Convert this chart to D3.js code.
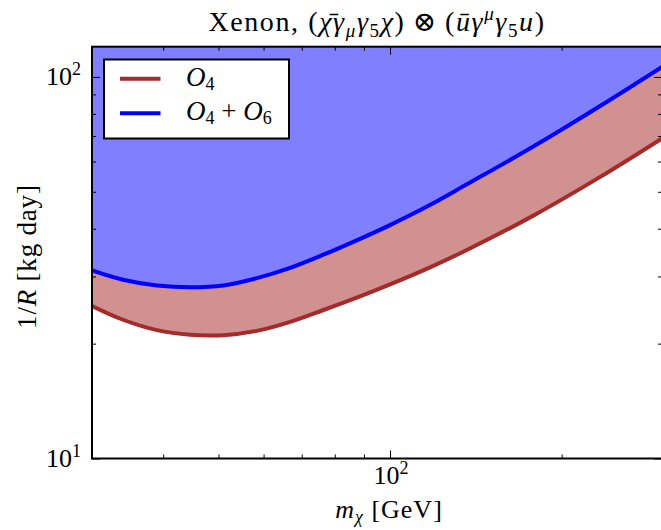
<!DOCTYPE html>
<html>
<head>
<meta charset="utf-8">
<script src="https://cdn.jsdelivr.net/npm/d3@7"></script>
<style>
  html, body { margin: 0; padding: 0; background: #fff; }
  svg { display: block; }
  text { font-family: "Liberation Serif", "DejaVu Serif", serif; fill: #000; }
</style>
</head>
<body>
<svg id="chart" width="661" height="530"></svg>
<script>
// ---- data ----
const massGeV      = [30, 34, 39, 44.6, 51, 58.4, 66.8, 76.4, 87.4, 100, 117, 136.4, 178.4, 233.7, 300];
const invRateO4    = [25.1, 23.1, 21.7, 21.1, 21.05, 21.6, 22.8, 24.5, 26.4, 28.6, 31.6, 35.2, 43.3, 54.7, 69.0];
const invRateO4O6  = [31.1, 29.4, 28.4, 28.1, 28.4, 29.7, 31.6, 34.2, 37.3, 40.9, 46.0, 52.3, 65.7, 83.9, 106.2];
const seriesNames  = ["O4", "O4+O6"];
const xDomain = [30, 300];
const yDomain = [10, 120];
const xMajorTicks = [100];
const xMinorTicks = [40, 50, 60, 70, 80, 90, 200];
const yMajorTicks = [10, 100];
const yMinorTicks = [20, 30, 40, 50, 60, 70, 80, 90];

const svg = d3.select("#chart");
const L = 92, R = 662, T = 46.7, B = 458.5;
const x = d3.scaleLog().domain(xDomain).range([L, R]);
const y = d3.scaleLog().domain(yDomain).range([B, T]);

const dataO4 = massGeV.map((m, i) => ({m, v: invRateO4[i]}));
const dataO46 = massGeV.map((m, i) => ({m, v: invRateO4O6[i], lo: invRateO4[i]}));

svg.append("defs").append("clipPath").attr("id", "clip")
  .append("rect").attr("x", L).attr("y", T).attr("width", R - L).attr("height", B - T);

const plot = svg.append("g").attr("clip-path", "url(#clip)");
const curve = d3.curveCatmullRom.alpha(0.5);

// blue region above blue curve
plot.append("path")
  .datum(dataO46)
  .attr("fill", "#7f7fff")
  .attr("d", d3.area().curve(curve)
    .x(d => x(d.m)).y0(d => y(d.v)).y1(() => y(yDomain[1])));

// pink band between the curves
plot.append("path")
  .datum(dataO46)
  .attr("fill", "#d19191")
  .attr("d", d3.area().curve(curve)
    .x(d => x(d.m)).y0(d => y(d.lo)).y1(d => y(d.v)));

const line = d3.line().curve(curve).x(d => x(d.m)).y(d => y(d.v));
plot.append("path").datum(dataO4).attr("fill", "none").attr("stroke", "#a52a2a")
  .attr("stroke-width", 4).attr("d", line);
plot.append("path").datum(dataO46).attr("fill", "none").attr("stroke", "#0000ff")
  .attr("stroke-width", 4).attr("d", line);

// ---- axes (ticks inward on all four sides) ----
function styleAxis(g) {
  g.select(".domain").remove();
  g.selectAll(".tick line").attr("stroke", "#000").attr("stroke-width", 1);
  g.selectAll(".tick text").remove();
}
const maj = 8, mnr = 4;
svg.append("g").attr("transform", `translate(0,${B})`)
  .call(d3.axisTop(x).tickValues(xMajorTicks).tickSize(maj)).call(styleAxis);
svg.append("g").attr("transform", `translate(0,${B})`)
  .call(d3.axisTop(x).tickValues(xMinorTicks).tickSize(mnr)).call(styleAxis);
svg.append("g").attr("transform", `translate(0,${T})`)
  .call(d3.axisBottom(x).tickValues(xMajorTicks).tickSize(maj)).call(styleAxis);
svg.append("g").attr("transform", `translate(0,${T})`)
  .call(d3.axisBottom(x).tickValues(xMinorTicks).tickSize(mnr)).call(styleAxis);
svg.append("g").attr("transform", `translate(${L},0)`)
  .call(d3.axisRight(y).tickValues(yMajorTicks).tickSize(maj)).call(styleAxis);
svg.append("g").attr("transform", `translate(${L},0)`)
  .call(d3.axisRight(y).tickValues(yMinorTicks).tickSize(mnr)).call(styleAxis);
svg.append("g").attr("transform", `translate(${R},0)`)
  .call(d3.axisLeft(y).tickValues(yMajorTicks).tickSize(maj)).call(styleAxis);
svg.append("g").attr("transform", `translate(${R},0)`)
  .call(d3.axisLeft(y).tickValues(yMinorTicks).tickSize(mnr)).call(styleAxis);

// frame
svg.append("rect").attr("x", L).attr("y", T).attr("width", R - L).attr("height", B - T)
  .attr("fill", "none").attr("stroke", "#000").attr("stroke-width", 2);

// tick labels
function powLabel(g, px, py, exp, anchor) {
  const t = g.append("text").attr("x", px).attr("y", py).attr("text-anchor", anchor)
    .attr("font-size", 26);
  t.append("tspan").text("10");
  t.append("tspan").attr("dy", -10).attr("font-size", 18).text(exp);
  return t;
}
yMajorTicks.forEach(v => powLabel(svg, 81, y(v) + 8.5, String(Math.round(Math.log10(v))), "end"));
xMajorTicks.forEach(v => powLabel(svg, x(v) + 1, 484, String(Math.round(Math.log10(v))), "middle"));

// title
const title = svg.append("text").attr("x", 377).attr("y", 31).attr("text-anchor", "middle")
  .attr("font-size", 28).attr("letter-spacing", 1.6);
title.append("tspan").text("Xenon,  (");
title.append("tspan").attr("font-style", "italic").text("χ\u0304");
title.append("tspan").attr("font-style", "italic").text("γ");
title.append("tspan").attr("font-style", "italic").attr("font-size", 19).attr("dy", 6).text("μ");
title.append("tspan").attr("font-style", "italic").attr("dy", -6).text("γ");
title.append("tspan").attr("font-size", 19).attr("dy", 6).text("5");
title.append("tspan").attr("font-style", "italic").attr("dy", -6).text("χ");
title.append("tspan").text(")\u2009⊗\u2009(");
title.append("tspan").attr("font-style", "italic").text("u\u0304");
title.append("tspan").attr("font-style", "italic").text("γ");
title.append("tspan").attr("font-style", "italic").attr("font-size", 19).attr("dy", -11).text("μ");
title.append("tspan").attr("font-style", "italic").attr("dy", 11).text("γ");
title.append("tspan").attr("font-size", 19).attr("dy", 6).text("5");
title.append("tspan").attr("font-style", "italic").attr("dy", -6).text("u");
title.append("tspan").text(")");

// axis labels
const xl = svg.append("text").attr("x", 389).attr("y", 518).attr("text-anchor", "middle")
  .attr("font-size", 26).attr("letter-spacing", 1);
xl.append("tspan").attr("font-style", "italic").text("m");
xl.append("tspan").attr("font-style", "italic").attr("font-size", 18).attr("dy", 5).text("χ");
xl.append("tspan").attr("dy", -5).text("  [GeV]");

const yl = svg.append("text").attr("transform", `translate(36,${(T + B) / 2 + 4}) rotate(-90)`)
  .attr("text-anchor", "middle").attr("font-size", 27).attr("letter-spacing", 0.8);
yl.append("tspan").text("1/");
yl.append("tspan").attr("font-style", "italic").text("R");
yl.append("tspan").text(" [kg day]");

// legend
const lg = svg.append("g");
lg.append("rect").attr("x", 104).attr("y", 59.5).attr("width", 185).attr("height", 79)
  .attr("fill", "#fff").attr("stroke", "#000").attr("stroke-width", 2);
const legendColors = ["#a52a2a", "#0000ff"];
const legendY = [78.7, 113.3];
seriesNames.forEach((name, i) => {
  lg.append("line").attr("x1", 120).attr("x2", 160.5).attr("y1", legendY[i]).attr("y2", legendY[i])
    .attr("stroke", legendColors[i]).attr("stroke-width", 4);
  const t = lg.append("text").attr("x", 186).attr("y", legendY[i] + 7).attr("font-size", 27);
  t.append("tspan").attr("font-style", "italic").text("O");
  t.append("tspan").attr("font-size", 18).attr("dy", 4).text("4");
  if (name === "O4+O6") {
    t.append("tspan").attr("dy", -4).text(" + ");
    t.append("tspan").attr("font-style", "italic").text("O");
    t.append("tspan").attr("font-size", 18).attr("dy", 4).text("6");
  }
});
</script>
</body>
</html>
